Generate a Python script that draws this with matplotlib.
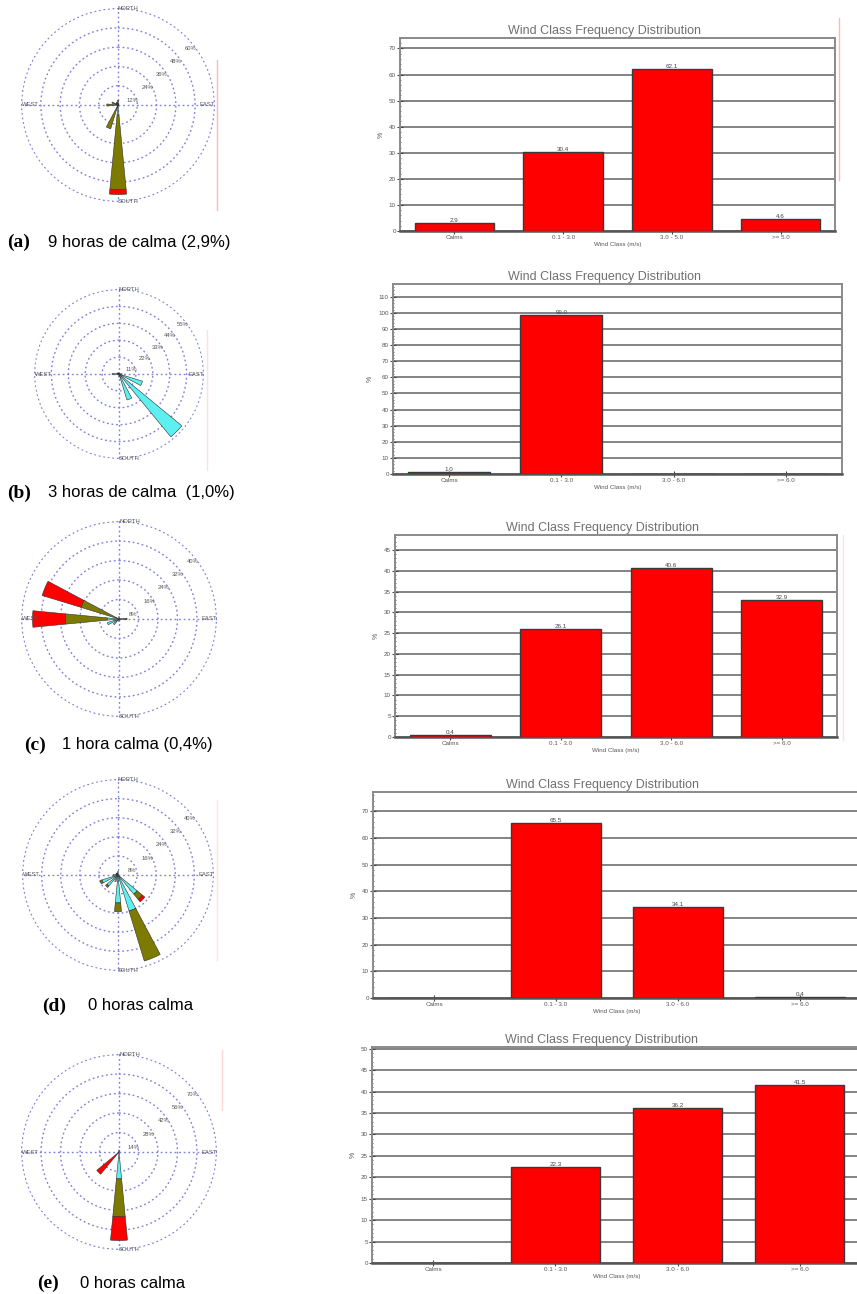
import numpy as np
import matplotlib
matplotlib.use("Agg")
import matplotlib.pyplot as plt
from matplotlib.lines import Line2D
from matplotlib.ticker import MultipleLocator

plt.rcParams['font.family'] = ['Liberation Sans', 'DejaVu Sans']

W, H = 857, 1294

# bar charts: wind class frequency (%)
classes_a = ['Calms', '0.1 - 3.0', '3.0 - 5.0', '>= 5.0']
classes = ['Calms', '0.1 - 3.0', '3.0 - 6.0', '>= 6.0']
freq_a = [2.9, 30.4, 62.1, 4.6]
freq_b = [1.0, 99.0, 0.0, 0.0]
freq_c = [0.4, 26.1, 40.6, 32.9]
freq_d = [0.0, 65.5, 34.1, 0.4]
freq_e = [0.0, 22.3, 36.2, 41.5]

# wind roses: 16 directions N, NNE, ..., NNW  (% per speed class)
directions = ['N', 'NNE', 'NE', 'ENE', 'E', 'ESE', 'SE', 'SSE',
              'S', 'SSW', 'SW', 'WSW', 'W', 'WNW', 'NW', 'NNW']
cyan_a = [0.5, 0, 0, 0, 0, 0, 0, 0.5, 6.2, 1.5, 0, 0, 1.0, 1.0, 0.5, 0.5]
olive_a = [2.5, 1.0, 0, 0, 0, 0, 0, 0, 46.4, 14.0, 0, 0, 6.0, 3.0, 1.0, 1.5]
red_a = [0, 0, 0, 0, 0, 0, 0, 0, 3.1, 0, 0, 0, 0, 0, 0, 0]

cyan_b = [1.0, 0, 0, 0, 2.0, 16.0, 53.0, 17.7, 2.0, 0, 0, 1.0, 4.5, 1.5, 1.0, 0]
olive_b = [0] * 16
red_b = [0] * 16

cyan_c = [1.0, 0, 0, 0, 1.0, 0, 0, 0, 1.0, 0, 3.0, 5.0, 4.9, 1.2, 0, 0]
olive_c = [0, 0, 0, 0, 2.3, 0, 0, 0, 0, 0, 0, 0, 17.1, 15.1, 0, 0]
red_c = [0, 0, 0, 0, 0, 0, 0, 0, 0, 0, 0, 0, 13.5, 16.7, 0, 0]

cyan_d = [1.5, 0, 0, 0, 0, 0, 10.4, 15.8, 11.7, 3.0, 6.0, 7.0, 2.0, 1.0, 1.0, 1.0]
olive_d = [0, 0, 0, 0, 0, 0, 2.9, 21.9, 3.7, 0, 0.8, 0.9, 0, 0, 0, 0]
red_d = [0, 0, 0, 0, 0, 0, 1.3, 0, 0, 0, 0, 0, 0, 0, 0, 0]

cyan_e = [1.5, 0, 0, 0, 0, 0, 0, 0, 19.3, 0, 1.0, 0, 0, 0, 0, 0]
olive_e = [0, 0, 0, 0, 0, 0, 0, 0, 27.1, 0, 0, 0, 0, 0, 0, 0]
red_e = [0, 0, 0, 0, 0, 0, 0, 0, 17.2, 0, 19.7, 0, 0, 0, 0, 0]

fig = plt.figure(figsize=(W / 100, H / 100), dpi=100)


def box(x0, y0, x1, y1):
    return [x0 / W, 1 - y1 / H, (x1 - x0) / W, (y1 - y0) / H]


def rose(cx, cy, r, rmax, cyan, olive, red):
    ax = fig.add_axes(box(cx - r, cy - r, cx + r, cy + r), projection='polar')
    ax.set_theta_zero_location('N')
    ax.set_theta_direction(-1)
    theta = np.deg2rad(np.arange(16) * 22.5)
    cyan, olive, red = np.array(cyan), np.array(olive), np.array(red)
    bottom = np.zeros(16)
    for vals, col in [(cyan, '#5ef0f0'), (olive, '#7c7a00'), (red, '#ff0000')]:
        m = vals > 0
        ax.bar(theta[m], vals[m], bottom=bottom[m], width=np.deg2rad(11),
               color=col, edgecolor='#303030', linewidth=0.4, zorder=3)
        bottom = bottom + vals
    step = rmax / 5
    rings = np.arange(1, 6) * step
    ax.set_ylim(0, rmax * 1.006)
    ax.set_yticks(rings)
    ax.set_yticklabels([])
    ax.set_xticks(np.deg2rad([0, 90, 180, 270]))
    ax.set_xticklabels([])
    ax.grid(True, color='#8080dc', linestyle=(0, (1.3, 2.0)), linewidth=1.0)
    ax.spines['polar'].set_visible(False)
    ax.tick_params(length=0)
    fs = 4.2
    ax.text(0, rmax, 'NORTH', ha='left', va='center', fontsize=fs, color='#555')
    ax.text(np.pi, rmax, 'SOUTH', ha='left', va='center', fontsize=fs, color='#555')
    ax.text(np.pi / 2, rmax, 'EAST', ha='right', va='center', fontsize=fs, color='#555')
    ax.text(3 * np.pi / 2, rmax, 'WEST', ha='left', va='center', fontsize=fs, color='#555')
    for ring, ang in zip(rings, [72, 60, 55, 53, 52]):
        ax.text(np.deg2rad(ang), ring - step * 0.22, '%d%%' % round(ring),
                ha='center', va='center', fontsize=fs, color='#555')
    return ax


def bars(x0, y0, x1, y1, ytop, step, vals, cats):
    ax = fig.add_axes(box(x0, y0, x1, y1))
    x = np.arange(len(cats))
    ax.bar(x, vals, width=0.73, color='#ff0000', edgecolor='#3a3a3a',
           linewidth=1.0, zorder=3)
    for xi, v in zip(x, vals):
        if v > 0:
            ax.text(xi, v, '%.1f' % v, ha='center', va='bottom',
                    fontsize=4.5, color='#444')
    ax.set_xlim(-0.5, 3.5)
    ax.set_ylim(0, ytop)
    ax.set_yticks(np.arange(0, ytop, step))
    ax.yaxis.set_minor_locator(MultipleLocator(step / 5))
    ax.yaxis.grid(True, color='#7a7a7a', linewidth=1.3)
    ax.set_axisbelow(True)
    ax.set_xticks(x)
    ax.set_xticklabels(cats)
    ax.tick_params(labelsize=4.5, labelcolor='#555', color='#444',
                   direction='inout', length=4, width=0.8, pad=1)
    ax.tick_params(which='minor', direction='inout', length=2, width=0.6, color='#555')
    for s in ax.spines.values():
        s.set_color('#8a8a8a')
        s.set_linewidth(1.4)
    ax.spines['bottom'].set_color('#555')
    ax.spines['bottom'].set_linewidth(1.8)
    ax.set_title('Wind Class Frequency Distribution', fontsize=9,
                 color='#707070', pad=3, x=0.47)
    ax.set_ylabel('%', fontsize=5, color='#555', labelpad=3)
    ax.set_xlabel('Wind Class (m/s)', fontsize=4.5, color='#555', labelpad=1)
    return ax


# row (a)
rose(118, 105, 97, 60, cyan_a, olive_a, red_a)
bars(400, 38, 835, 231, 74, 10, freq_a, classes_a)
# row (b)
rose(119, 374, 85, 55, cyan_b, olive_b, red_b)
bars(393, 284, 842, 474, 118, 10, freq_b, classes)
# row (c)
rose(119, 619, 98, 40, cyan_c, olive_c, red_c)
bars(395, 535, 837, 737, 48.6, 5, freq_c, classes)
# row (d)
rose(118, 875, 96, 40, cyan_d, olive_d, red_d)
bars(373, 792, 861, 998, 77.3, 10, freq_d, classes)
# row (e)
rose(119, 1152, 98, 70, cyan_e, olive_e, red_e)
bars(372, 1047, 861, 1263, 50.4, 5, freq_e, classes)

# captions
captions = [
    (7, 48, 242, '(a)', '9 horas de calma (2,9%)'),
    (7, 48, 493, '(b)', '3 horas de calma  (1,0%)'),
    (24, 62, 745, '(c)', '1 hora calma (0,4%)'),
    (42, 88, 1006, '(d)', '0 horas calma'),
    (37, 80, 1283, '(e)', '0 horas calma'),
]
for xl, xt, y, lab, txt in captions:
    fig.text(xl / W, 1 - y / H, lab, fontsize=14, fontweight='bold',
             family='Liberation Serif', va='center', ha='left')
    fig.text(xt / W, 1 - y / H, txt, fontsize=12, va='center', ha='left')

# faint scan marks at the panel edges
for x, ya, yb, a in [(217, 60, 210, 0.9), (839, 18, 180, 0.9), (207, 330, 470, 0.4),
                     (843, 535, 740, 0.4), (217, 800, 960, 0.4), (222, 1050, 1110, 0.5)]:
    fig.add_artist(Line2D([x / W, x / W], [1 - ya / H, 1 - yb / H],
                          transform=fig.transFigure, color='#ffb0b0',
                          linewidth=1.0, alpha=a))

fig.savefig('out.png', dpi=100)
